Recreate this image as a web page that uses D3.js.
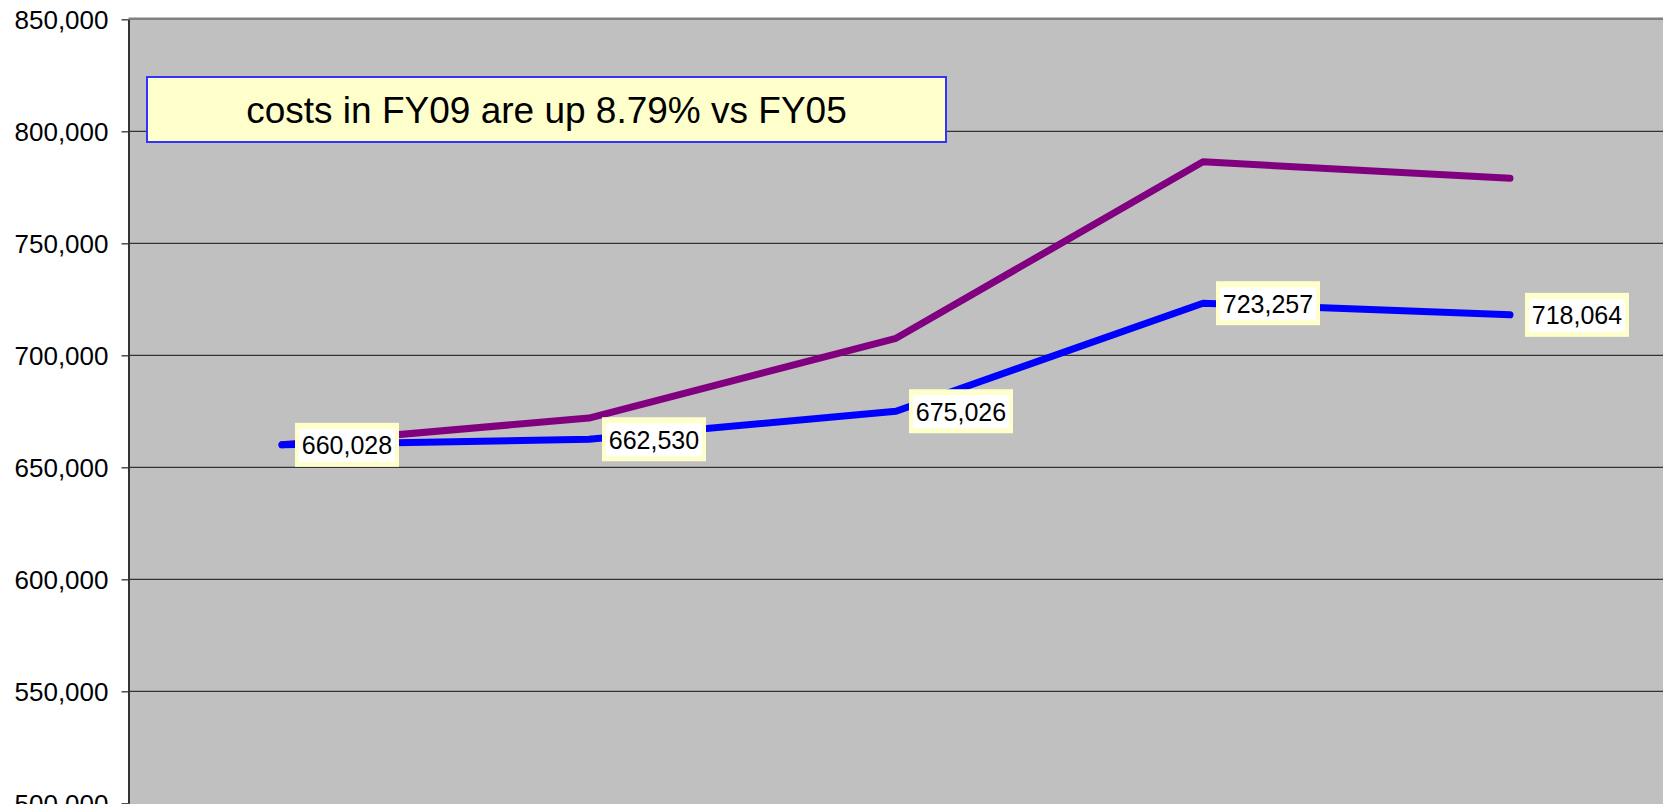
<!DOCTYPE html>
<meta charset="utf-8">
<style>
body { margin: 0; overflow: hidden; background: #fff; }
svg { display: block; font-family: "Liberation Sans", Arial, sans-serif; }
.axis text { font-size: 26px; fill: #000; }
.axis line, .axis path { stroke: #333; }
.grid line { stroke: #333; stroke-width: 1.3; }
path.line { fill: none; stroke-width: 7; stroke-linejoin: round; stroke-linecap: round; }
</style>
<body>
<script src="https://d3js.org/d3.v7.min.js"></script>
<script>
// data
var years = ["FY05", "FY06", "FY07", "FY08", "FY09"];
var costs = [660028, 662530, 675026, 723257, 718064];
var otherCosts = [660100, 672000, 707600, 786400, 779000];
var yTicks = [500000, 550000, 600000, 650000, 700000, 750000, 800000, 850000];

var W = 1663, H = 804;
var plotLeft = 128.5, plotTop = 19.3, plotBottom = 803.3;

var svg = d3.select("body").append("svg")
    .attr("width", W)
    .attr("height", H);

var x = d3.scalePoint().domain(years).range([plotLeft, plotLeft + 5 * 307]).padding(0.5);
var y = d3.scaleLinear().domain([500000, 850000]).range([plotBottom, plotTop]);

// plot area
svg.append("rect")
    .attr("x", plotLeft).attr("y", plotTop)
    .attr("width", W - plotLeft + 5).attr("height", plotBottom - plotTop + 10)
    .attr("fill", "#c0c0c0");

// gridlines
svg.append("g")
    .attr("class", "grid")
    .selectAll("line")
    .data(yTicks.slice(1, -1))
    .enter().append("line")
        .attr("x1", plotLeft).attr("x2", W)
        .attr("y1", function(d) { return y(d); })
        .attr("y2", function(d) { return y(d); });

// top border
svg.append("line")
    .attr("x1", plotLeft).attr("x2", W)
    .attr("y1", plotTop - 0.5).attr("y2", plotTop - 0.5)
    .attr("stroke", "#808080").attr("stroke-width", 2.5);

// y axis
var yAxis = d3.axisLeft(y)
    .tickValues(yTicks)
    .tickFormat(d3.format(","))
    .tickSize(7)
    .tickSizeOuter(0)
    .tickPadding(13);

var gy = svg.append("g")
    .attr("class", "axis")
    .attr("transform", "translate(" + plotLeft + ",0)")
    .call(yAxis);
gy.attr("font-family", null).attr("font-size", null);
gy.select(".domain").attr("stroke-width", 2);
gy.selectAll(".tick line").attr("stroke-width", 1.3);
gy.selectAll("text").attr("dy", "0.36em");

// lines
var valueline = d3.line()
    .x(function(d, i) { return x(years[i]); })
    .y(function(d) { return y(d); });

svg.append("path")
    .attr("class", "line")
    .attr("stroke", "#800080")
    .attr("d", valueline(otherCosts));

svg.append("path")
    .attr("class", "line")
    .attr("stroke", "#0000ff")
    .attr("d", valueline(costs));

// data labels
var fmt = d3.format(",");
var lab = svg.selectAll(".label")
    .data(costs)
    .enter().append("g")
        .attr("class", "label")
        .attr("transform", function(d, i) {
            return "translate(" + (x(years[i]) + (i == 4 ? 15 : 13)) + "," + y(d) + ")";
        });
lab.append("rect")
    .attr("x", 0).attr("y", -22)
    .attr("width", 104).attr("height", 44)
    .attr("fill", "#ffffcc");
lab.append("rect")
    .attr("x", 4).attr("y", -16)
    .attr("width", 96).attr("height", 33)
    .attr("fill", "#fff");
lab.append("text")
    .attr("x", 52).attr("y", 9.5)
    .attr("text-anchor", "middle")
    .attr("font-size", "25px")
    .attr("fill", "#000")
    .text(function(d) { return fmt(d); });

// annotation box
var pct = d3.format(".2%")(costs[4] / costs[0] - 1);
svg.append("rect")
    .attr("x", 147).attr("y", 77)
    .attr("width", 799).attr("height", 65)
    .attr("fill", "#ffffcc")
    .attr("stroke", "#3333ff")
    .attr("stroke-width", 2);
svg.append("text")
    .attr("x", 546.5).attr("y", 123.4)
    .attr("text-anchor", "middle")
    .attr("font-size", "37px")
    .attr("fill", "#000")
    .text("costs in " + years[4] + " are up " + pct + " vs " + years[0]);
</script>
</body>
